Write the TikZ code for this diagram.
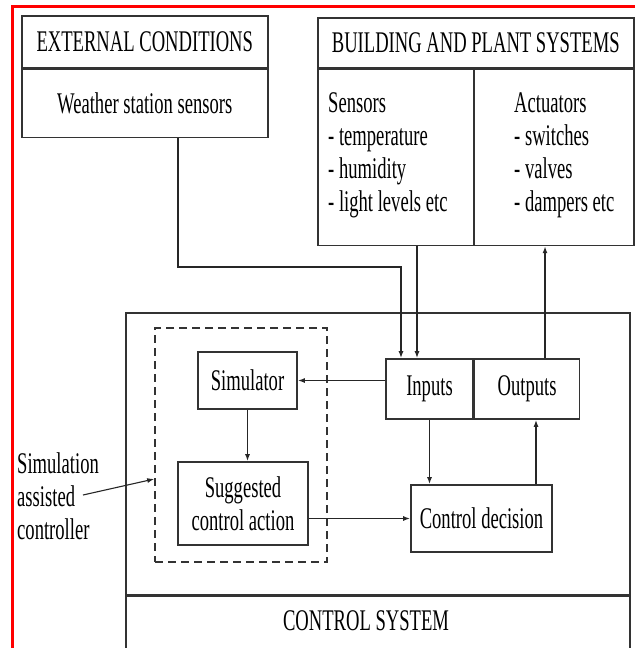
\documentclass[tikz,border=0pt]{standalone}
\usepackage{fontspec}
\setmainfont{Liberation Serif}[FakeStretch=0.62]
\usetikzlibrary{arrows.meta}

\begin{document}
\begin{tikzpicture}[x=1pt, y=-1pt,
    caja/.style={draw=black!80, line width=1.6pt, inner sep=0pt, font=\fontsize{30}{33}\selectfont},
    texto/.style={inner sep=0pt, align=left, font=\fontsize{30}{33}\selectfont},
    flecha/.style={draw=black!85, line width=1.4pt, -{Latex[length=7pt,width=5pt]}}]
        \useasboundingbox (0,0) rectangle (635,648);

        % Marco
        \draw[red, line width=3pt] (12,648) -- (12,6) -- (635,6);

        % Condiciones externas
        \node[caja, minimum width=246, minimum height=52, anchor=north west] (exthead) at (21,15) {EXTERNAL CONDITIONS};
        \node[caja, minimum width=246, minimum height=68, anchor=north west] (ws) at (exthead.south west) {Weather station sensors};

        % Edificio y sistemas
        \node[caja, minimum width=316, minimum height=50, anchor=north west] (bhead) at (317,17) {BUILDING AND PLANT SYSTEMS};
        \node[caja, minimum width=156, minimum height=176, anchor=north west] (sens) at (bhead.south west) {};
        \node[caja, minimum width=160, minimum height=176, anchor=north east] (act) at (bhead.south east) {};
        \node[texto, anchor=west] (senstxt) at (328,155) {Sensors\\- temperature\\- humidity\\- light levels etc};
        \node[texto, anchor=west] (acttxt) at (514,155) {Actuators\\- switches\\- valves\\- dampers etc};

        % Sistema de control
        \node[caja, minimum width=504, minimum height=282, anchor=north west] (cs) at (125,312) {};
        \node[caja, minimum width=504, minimum height=53, anchor=north west] (cshead) at (cs.south west) {};
        \node[texto] (cstxt) at (366,621) {CONTROL SYSTEM};

        % Controlador asistido por simulacion
        \node[caja, dash pattern=on 8pt off 5pt, minimum width=172, minimum height=234] (sac) at (241,445) {};
        \node[caja, minimum width=99, minimum height=57] (sim) at (247.5,380.5) {Simulator};
        \node[caja, minimum width=130, minimum height=83, align=center] (sug) at (243,503.5) {Suggested\\control action};
        \node[texto, anchor=west] (saclbl) at (17,496) {Simulation\\assisted\\controller};

        % Entradas, salidas y decision
        \node[caja, minimum width=87, minimum height=60] (inp) at (429.5,389) {Inputs};
        \node[caja, minimum width=105, minimum height=60, anchor=west] (outp) at (inp.east) {Outputs};
        \node[caja, minimum width=141, minimum height=67] (dec) at (481.5,518.5) {Control decision};

        % Conexiones
        \coordinate (c1) at (178,267);
        \coordinate (c2) at (401,267);
        \coordinate (c3) at (417,300);
        \coordinate (c4) at (545,300);
        \coordinate (c5) at (536,450);
        \coordinate (c6) at (83,495);
        \coordinate (c7) at (155,479);
        \draw[flecha] (ws.south -| c1) -- (c1) -- (c2) -- (c2 |- inp.north);
        \draw[flecha] (sens.south -| c3) -- (c3 |- inp.north);
        \draw[flecha] (c4 |- outp.north) -- (c4 |- act.south);
        \draw[flecha] (inp.west |- sim.east) -- (sim.east);
        \draw[flecha] (sim.south) -- (sim.south |- sug.north);
        \draw[flecha] (sug.east |- dec.west) -- (dec.west);
        \draw[flecha] (inp.south) -- (inp.south |- dec.north);
        \draw[flecha] (c5 |- dec.north) -- (c5 |- outp.south);
        \draw[flecha, line width=1.1pt] (c6) -- (sac.west |- c7);
    \end{tikzpicture}
\end{document}
